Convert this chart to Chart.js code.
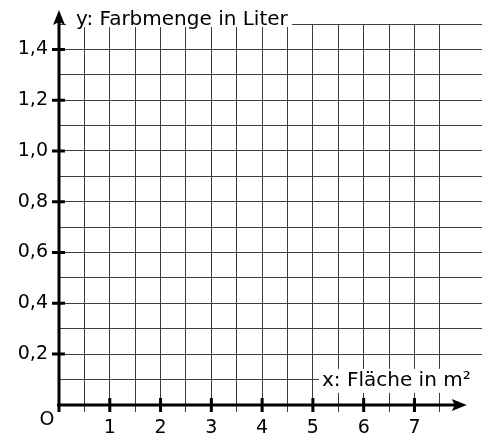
<!DOCTYPE html>
<html lang="de">
<head>
<meta charset="utf-8">
<title>Farbmenge pro Fläche</title>
<script src="https://cdn.jsdelivr.net/npm/chart.js@4/dist/chart.umd.min.js"></script>
<style>
  html, body { margin: 0; padding: 0; background: #fff; }
  #wrap { width: 493px; height: 435px; }
</style>
</head>
<body>
<div id="wrap"><canvas id="chart" width="493" height="435"></canvas></div>
<script>
/* ── Axis labels / ticks ── */
const xTickValues = [1, 2, 3, 4, 5, 6, 7];
const xTickLabels = ['1', '2', '3', '4', '5', '6', '7'];
const yTickValues = [0.2, 0.4, 0.6, 0.8, 1.0, 1.2, 1.4];
const yTickLabels = ['0,2', '0,4', '0,6', '0,8', '1,0', '1,2', '1,4'];
const xTitle      = 'x: Fläche in m²';
const yTitle      = 'y: Farbmenge in Liter';
const originLabel = 'O';

/* ── Grid range (graph paper: 0.5 per cell on x, 0.1 per cell on y) ── */
const X_MIN = 0,      X_MAX = 8.33, X_STEP = 0.5;
const Y_MIN = -0.028, Y_MAX = 1.5,  Y_STEP = 0.1;
const X_ARROW = 8.03;   // tip of the x arrow
const Y_ARROW = 1.555;  // tip of the y arrow

const TICK_FONT  = '19px "DejaVu Sans", sans-serif';
const TITLE_FONT = '20px "DejaVu Sans", sans-serif';
const GRID = '#3c3c3c';

/* ── Draw axes, arrows, tick marks and labels on top of the grid ── */
const axesPlugin = {
  id: 'axes',
  afterDraw(chart) {
    const { ctx, chartArea, scales: { x, y } } = chart;
    const x0 = x.getPixelForValue(0);
    const y0 = y.getPixelForValue(0);
    const xTip = x.getPixelForValue(X_ARROW);
    const yTip = y.getPixelForValue(Y_ARROW);

    ctx.save();

    // white boxes behind the axis titles
    ctx.fillStyle = '#fff';
    ctx.fillRect(x0 + 7, yTip, 226, 17);
    ctx.fillRect(319, y0 - 36, 166, 24);

    // axis lines
    ctx.strokeStyle = '#000';
    ctx.lineWidth = 3;
    ctx.beginPath();
    ctx.moveTo(x0, chartArea.bottom);
    ctx.lineTo(x0, yTip + 8);
    ctx.moveTo(x0 - 2, y0);
    ctx.lineTo(xTip - 8, y0);
    ctx.stroke();

    // arrow heads
    ctx.fillStyle = '#000';
    ctx.beginPath();
    ctx.moveTo(x0, yTip);
    ctx.lineTo(x0 + 6, yTip + 15);
    ctx.lineTo(x0, yTip + 12);
    ctx.lineTo(x0 - 6, yTip + 15);
    ctx.closePath();
    ctx.fill();
    ctx.beginPath();
    ctx.moveTo(xTip, y0);
    ctx.lineTo(xTip - 15, y0 - 6);
    ctx.lineTo(xTip - 12, y0);
    ctx.lineTo(xTip - 15, y0 + 6);
    ctx.closePath();
    ctx.fill();

    // tick marks
    ctx.beginPath();
    yTickValues.forEach(v => {
      const py = y.getPixelForValue(v);
      ctx.moveTo(x0 - 7, py);
      ctx.lineTo(x0 + 6, py);
    });
    xTickValues.forEach(v => {
      const px = x.getPixelForValue(v);
      ctx.moveTo(px, y0 - 7);
      ctx.lineTo(px, y0 + 7);
    });
    ctx.stroke();

    // tick labels
    ctx.font = TICK_FONT;
    ctx.fillStyle = '#000';
    ctx.textBaseline = 'middle';
    ctx.textAlign = 'right';
    yTickValues.forEach((v, i) => ctx.fillText(yTickLabels[i], x0 - 11, y.getPixelForValue(v)));
    ctx.textAlign = 'center';
    xTickValues.forEach((v, i) => ctx.fillText(xTickLabels[i], x.getPixelForValue(v), y0 + 23));
    ctx.fillText(originLabel, x0 - 12, y0 + 15);

    // axis titles
    ctx.font = TITLE_FONT;
    ctx.textAlign = 'left';
    ctx.fillText(yTitle, x0 + 17, yTip + 10);
    ctx.fillText(xTitle, 322, y0 - 24);

    ctx.restore();
  },
};

new Chart(document.getElementById('chart'), {
  type: 'scatter',
  data: { datasets: [{ data: [] }] },
  options: {
    responsive: false,
    devicePixelRatio: 1,
    animation: false,
    layout: { padding: { left: 59, top: 24, right: 11, bottom: 23 } },
    plugins: { legend: { display: false }, tooltip: { enabled: false } },
    scales: {
      x: {
        type: 'linear',
        min: X_MIN, max: X_MAX,
        ticks: { display: false, stepSize: X_STEP },
        grid: { color: GRID, lineWidth: 1, drawTicks: false },
        border: { display: false },
        afterBuildTicks: s => { s.ticks = s.ticks.filter(t => t.value >= X_MIN && t.value <= 8); },
      },
      y: {
        type: 'linear',
        min: Y_MIN, max: Y_MAX,
        ticks: { display: false, stepSize: Y_STEP },
        grid: { color: GRID, lineWidth: 1, drawTicks: false },
        border: { display: false },
        afterBuildTicks: s => { s.ticks = s.ticks.filter(t => t.value >= 0); },
      },
    },
  },
  plugins: [axesPlugin],
});
</script>
</body>
</html>
